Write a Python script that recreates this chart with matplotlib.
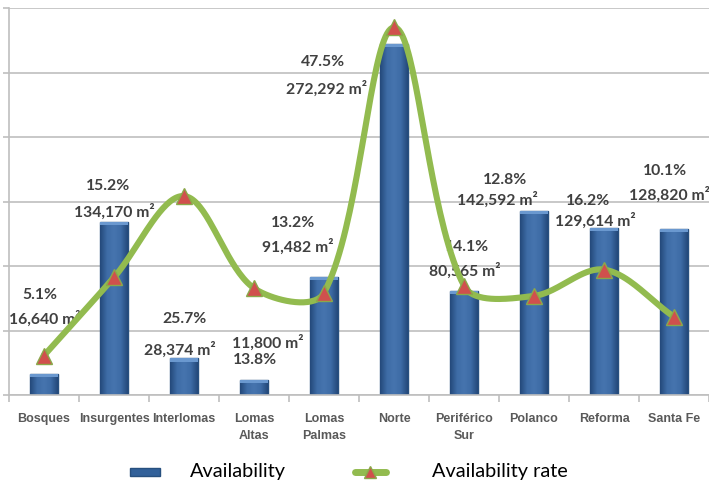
import numpy as np
import matplotlib
matplotlib.use("Agg")
import matplotlib.pyplot as plt
from matplotlib.lines import Line2D
from matplotlib.patches import Rectangle
from matplotlib.colors import LinearSegmentedColormap

categories = ["Bosques", "Insurgentes", "Interlomas", "Lomas\nAltas", "Lomas\nPalmas",
              "Norte", "Periférico\nSur", "Polanco", "Reforma", "Santa Fe"]
availability = [16640, 134170, 28374, 11800, 91482, 272292, 80565, 142592, 129614, 128820]
availability_rate = [5.1, 15.2, 25.7, 13.8, 13.2, 47.5, 14.1, 12.8, 16.2, 10.1]
area_labels = ["16,640 m²", "134,170 m²", "28,374 m²", "11,800 m²", "91,482 m²",
               "272,292 m²", "80,565 m²", "142,592 m²", "129,614 m²", "128,820 m²"]
rate_labels = ["5.1%", "15.2%", "25.7%", "13.8%", "13.2%", "47.5%", "14.1%", "12.8%", "16.2%", "10.1%"]

# label positions (x in category units, y in left-axis units)
rate_pos = [(-0.06, 77500), (0.91, 162000), (2.01, 58900), (3.01, 27100), (3.56, 133300),
            (3.99, 258100), (6.04, 114700), (6.59, 166700), (7.77, 150400), (8.87, 173600)]
area_pos = [(0.01, 58900), (1.01, 141900), (1.94, 34900), (3.2, 40300), (3.63, 114700),
            (4.04, 237200), (6.01, 96100), (6.47, 151200), (7.87, 134900), (8.93, 155000)]

W, H = 709, 484
fig = plt.figure(figsize=(W / 100, H / 100), dpi=100)
ax = fig.add_axes([9 / W, (H - 395) / H, 700 / W, 387 / H])
ax2 = ax.twinx()

x = np.arange(len(categories))
ax.set_xlim(-0.5, len(categories) - 0.5)
ax.set_ylim(0, 300000)
ax2.set_ylim(0, 50)

grid_c = "#BFBFBF"
ax.set_yticks(np.arange(0, 300001, 50000))
ax.yaxis.grid(True, color=grid_c, linewidth=1.2)
ax.set_axisbelow(True)
ax.set_yticklabels([])
ax.tick_params(axis="y", length=4, color=grid_c, width=1.2)
ax2.set_yticks([])
for a in (ax, ax2):
    for s in ("top", "right"):
        a.spines[s].set_visible(False)
    a.spines["left"].set_color(grid_c)
    a.spines["bottom"].set_color(grid_c)
    a.spines["left"].set_linewidth(1.2)
    a.spines["bottom"].set_linewidth(1.2)
ax2.spines["left"].set_visible(False)
ax2.spines["bottom"].set_visible(False)

# bars with horizontal gradient
bars = ax.bar(x, availability, width=0.4, color="#32619A", edgecolor="#27507F", linewidth=1.0, zorder=2)
cmap = LinearSegmentedColormap.from_list("barg", ["#24497A", "#3E6CA6", "#4674AE", "#3E6CA6", "#24497A"])
grad = np.linspace(0, 1, 64).reshape(1, -1)
for b, xi, v in zip(bars, x, availability):
    im = ax.imshow(grad, extent=(xi - 0.2, xi + 0.2, 0, v), aspect="auto", cmap=cmap, zorder=2.5)
    im.set_clip_path(b)
    ax.add_patch(Rectangle((xi - 0.2, v - 2600), 0.4, 2600, color="#6A98CF", zorder=3, lw=0))
ax.set_xlim(-0.5, len(categories) - 0.5)
ax.set_ylim(0, 300000)

# x ticks at category boundaries
ax.set_xticks(np.arange(-0.5, len(categories), 1.0), minor=False)
ax.set_xticklabels([])
ax.set_xticks(x, minor=True)
ax.set_xticklabels(categories, minor=True, fontsize=9, fontweight="bold", color="#595959",
                   family=["Liberation Sans Narrow", "Liberation Sans", "DejaVu Sans"], linespacing=1.55)
ax.tick_params(axis="x", which="major", length=5, color=grid_c, width=1.2)
ax.tick_params(axis="x", which="minor", length=0, pad=13)

# smoothed line (Excel-style Bezier, computed in display space)
ax2.figure.canvas.draw()
pts = ax2.transData.transform(np.column_stack([x, availability_rate]))
curve = []
n = len(pts)
f = 1 / 6
for i in range(n - 1):
    p0 = pts[i - 1] if i > 0 else pts[i]
    p1 = pts[i]
    p2 = pts[i + 1]
    p3 = pts[i + 2] if i + 2 < n else pts[i + 1]
    d01 = np.linalg.norm(p1 - p0)
    d12 = np.linalg.norm(p2 - p1)
    d23 = np.linalg.norm(p3 - p2)
    s1 = 2 * d12 / (d01 + d12) if d01 + d12 > 0 else 0
    s2 = 2 * d12 / (d12 + d23) if d12 + d23 > 0 else 0
    b1 = p1 + (p2 - p0) * f * s1
    b2 = p2 - (p3 - p1) * f * s2
    t = np.linspace(0, 1, 40)[:, None]
    seg = (1 - t) ** 3 * p1 + 3 * (1 - t) ** 2 * t * b1 + 3 * (1 - t) * t ** 2 * b2 + t ** 3 * p2
    curve.append(seg if i == 0 else seg[1:])
curve = ax2.transData.inverted().transform(np.vstack(curve))
green = "#92BB4F"
ax2.plot(curve[:, 0], curve[:, 1], color=green, linewidth=4.4, solid_capstyle="round", zorder=4)
ax2.plot(x, availability_rate, linestyle="none", marker="^", markersize=11,
         markerfacecolor="#D0504D", markeredgecolor="#8BA84A", markeredgewidth=1.0, zorder=5)

txt_kw = dict(fontsize=11.3, fontweight="bold", color="#404040", ha="center", va="center",
              family=["Lato", "DejaVu Sans"], zorder=6)
for (px, py), s in zip(rate_pos, rate_labels):
    ax.text(px, py, s, **txt_kw)
for (px, py), s in zip(area_pos, area_labels):
    ax.text(px, py, s, **txt_kw)

# legend (manual)
fig.add_artist(Rectangle((130 / W, 1 - 476 / H), 30 / W, 8 / H, transform=fig.transFigure,
                         facecolor="#32619A", edgecolor="#27507F", lw=1))
fig.add_artist(Line2D([355 / W, 386 / W], [1 - 472 / H, 1 - 472 / H], transform=fig.transFigure,
                      color=green, linewidth=5, solid_capstyle="round"))
fig.add_artist(Line2D([370 / W], [1 - 472 / H], transform=fig.transFigure, marker="^", markersize=9,
                      markerfacecolor="#D0504D", markeredgecolor="#8BA84A", linestyle="none"))
fig.text(190 / W, 1 - 472 / H, "Availability", fontsize=14.3, color="black", va="center", ha="left",
         family=["Lato", "DejaVu Sans"])
fig.text(432 / W, 1 - 472 / H, "Availability rate", fontsize=14.3, color="black", va="center", ha="left",
         family=["Lato", "DejaVu Sans"])

fig.savefig("out.png", dpi=100)
